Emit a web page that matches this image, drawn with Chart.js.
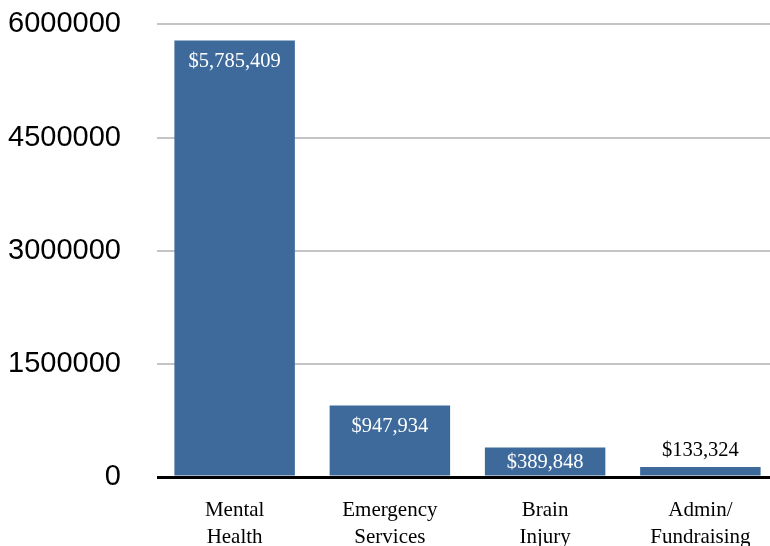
<!DOCTYPE html>
<html>
<head>
<meta charset="utf-8">
<script src="https://cdn.jsdelivr.net/npm/chart.js@4"></script>
<style>
  body { margin: 0; background: #fff; }
  #wrap { width: 770px; height: 546px; overflow: hidden; }
  #barChart { display: block; margin-top: -29px; }
</style>
</head>
<body>
<div id="wrap"><canvas id="barChart" width="778" height="580"></canvas></div>
<script>
const categories = [['Mental', 'Health'], ['Emergency', 'Services'], ['Brain', 'Injury'], ['Admin/', 'Fundraising']];
const amounts = [5785409, 947934, 389848, 133324];
const yTicks = [0, 1500000, 3000000, 4500000, 6000000];

// draws the dollar labels on / above each bar
const barLabels = {
    id: 'barLabels',
    afterDatasetsDraw(chart) {
        const ctx = chart.ctx;
        const meta = chart.getDatasetMeta(0);
        ctx.save();
        ctx.font = '20.5px "Liberation Serif", serif';
        ctx.textAlign = 'center';
        ctx.textBaseline = 'middle';
        meta.data.forEach((bar, i) => {
            const text = '$' + amounts[i].toLocaleString('en-US');
            const h = bar.base - bar.y;
            if (h > 20) {
                ctx.fillStyle = '#ffffff';
                ctx.fillText(text, bar.x, bar.y + Math.min(21, h / 2 + 1));
            } else {
                ctx.fillStyle = '#000000';
                ctx.fillText(text, bar.x, bar.y - 16);
            }
        });
        ctx.restore();
    }
};

const barChart = document.getElementById('barChart');

new Chart(barChart, {
    type: 'bar',
    data: {
        labels: categories,
        datasets: [{
            data: amounts,
            backgroundColor: '#3d6a9b',
            barPercentage: 0.776,
            categoryPercentage: 1
        }]
    },
    options: {
        responsive: false,
        animation: false,
        layout: { padding: 0 },
        plugins: {
            legend: { display: false },
            tooltip: { enabled: false }
        },
        scales: {
            x: {
                afterFit: (scale) => { scale.height = 74; },
                grid: { display: false, drawTicks: false },
                border: { display: false },
                ticks: {
                    color: '#000',
                    padding: 20,
                    maxRotation: 0,
                    font: { family: '"Liberation Serif", serif', size: 21, lineHeight: 1.3 }
                }
            },
            y: {
                min: 0,
                max: 6000000,
                afterBuildTicks: (scale) => { scale.ticks = yTicks.map(v => ({ value: v })); },
                afterFit: (scale) => { scale.width = 157; },
                grid: {
                    drawTicks: false,
                    color: (c) => c.tick && c.tick.value === 0 ? '#000' : '#c4c4c4',
                    lineWidth: (c) => c.tick && c.tick.value === 0 ? 3 : 2
                },
                border: { display: false },
                ticks: {
                    color: '#000',
                    padding: 36,
                    font: { family: '"Liberation Sans", Arial, sans-serif', size: 29 },
                    callback: (v) => String(v)
                }
            }
        }
    },
    plugins: [barLabels]
});
</script>
</body>
</html>
